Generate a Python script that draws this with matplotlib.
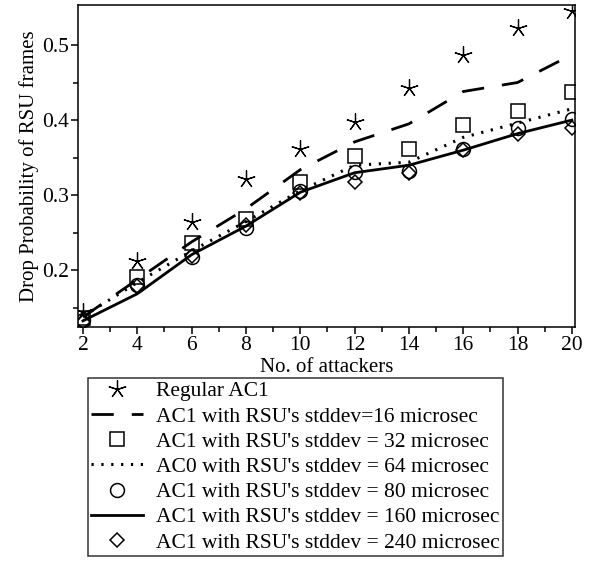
import numpy as np
import matplotlib
matplotlib.use('Agg')
import matplotlib.pyplot as plt
from matplotlib.ticker import MultipleLocator, FixedLocator

plt.rcParams['font.family'] = ['Liberation Serif', 'DejaVu Serif']
plt.rcParams['mathtext.default'] = 'regular'
plt.rcParams['lines.scale_dashes'] = False

attackers = [2, 4, 6, 8, 10, 12, 14, 16, 18, 20]
regular_ac1 = [0.145, 0.212, 0.265, 0.321, 0.362, 0.397, 0.443, 0.486, 0.523, 0.545]
ac1_sd16 = [0.138, 0.188, 0.238, 0.282, 0.334, 0.371, 0.395, 0.438, 0.450, 0.487]
ac1_sd32 = [0.137, 0.191, 0.237, 0.268, 0.317, 0.352, 0.362, 0.393, 0.412, 0.438]
ac0_sd64 = [0.139, 0.184, 0.226, 0.265, 0.306, 0.340, 0.344, 0.377, 0.396, 0.415]
ac1_sd80 = [0.134, 0.181, 0.218, 0.257, 0.306, 0.331, 0.332, 0.362, 0.390, 0.402]
ac1_sd160 = [0.133, 0.169, 0.221, 0.259, 0.304, 0.330, 0.340, 0.360, 0.382, 0.400]
ac1_sd240 = [0.131, 0.180, 0.219, 0.260, 0.303, 0.318, 0.330, 0.360, 0.382, 0.390]

labels = ["Regular AC1",
          "AC1 with RSU's stddev=16 microsec",
          "AC1 with RSU's stddev = 32 microsec",
          "AC0 with RSU's stddev = 64 microsec",
          "AC1 with RSU's stddev = 80 microsec",
          "AC1 with RSU's stddev = 160 microsec",
          "AC1 with RSU's stddev = 240 microsec"]

fig = plt.figure(figsize=(5.89, 5.62), dpi=100)
ax = fig.add_axes([0.1324, 0.418, 0.8436, 0.573])

mk = dict(linestyle='none', color='black', markerfacecolor='none', markeredgewidth=1.1)
ax.plot(attackers, regular_ac1, marker=(5, 2, 0), markersize=13, markeredgewidth=0.9,
        linestyle='none', color='black', label=labels[0])
ax.plot(attackers, ac1_sd16, color='black', lw=2.0, dashes=(16, 13), label=labels[1])
ax.plot(attackers, ac1_sd32, marker='s', markersize=10, label=labels[2], **mk)
ax.plot(attackers, ac0_sd64, color='black', lw=2.2, dashes=(1.6, 5.5), label=labels[3])
ax.plot(attackers, ac1_sd80, marker='o', markersize=10, label=labels[4], **mk)
ax.plot(attackers, ac1_sd160, color='black', lw=2.0, label=labels[5])
ax.plot(attackers, ac1_sd240, marker='D', markersize=7.2, label=labels[6], **mk)

ax.set_xlim(1.816, 20.11)
ax.set_ylim(0.1247, 0.553)
ax.xaxis.set_major_locator(MultipleLocator(2))
ax.xaxis.set_minor_locator(MultipleLocator(1))
ax.yaxis.set_major_locator(FixedLocator([0.2, 0.3, 0.4, 0.5]))
ax.yaxis.set_minor_locator(FixedLocator([0.15, 0.25, 0.35, 0.45]))
ax.tick_params(which='both', direction='out', width=1.1, labelsize=15.5, pad=1.5)
ax.tick_params(which='major', length=5)
ax.tick_params(which='minor', length=3.5)
for s in ax.spines.values():
    s.set_linewidth(1.1)

ax.set_xlabel('No. of attackers', fontsize=15, labelpad=2)
ax.set_ylabel('Drop Probability of RSU frames', fontsize=15, labelpad=2)

leg = fig.legend(loc='upper left', bbox_to_anchor=(0.1494, 0.3274),
                 fontsize=15.5, frameon=True, fancybox=False, edgecolor='black',
                 handlelength=2.4, handletextpad=0.6, labelspacing=0.24,
                 borderpad=0.15, borderaxespad=0)
leg.get_frame().set_linewidth(1.1)

fig.savefig('out.png', dpi=100)
